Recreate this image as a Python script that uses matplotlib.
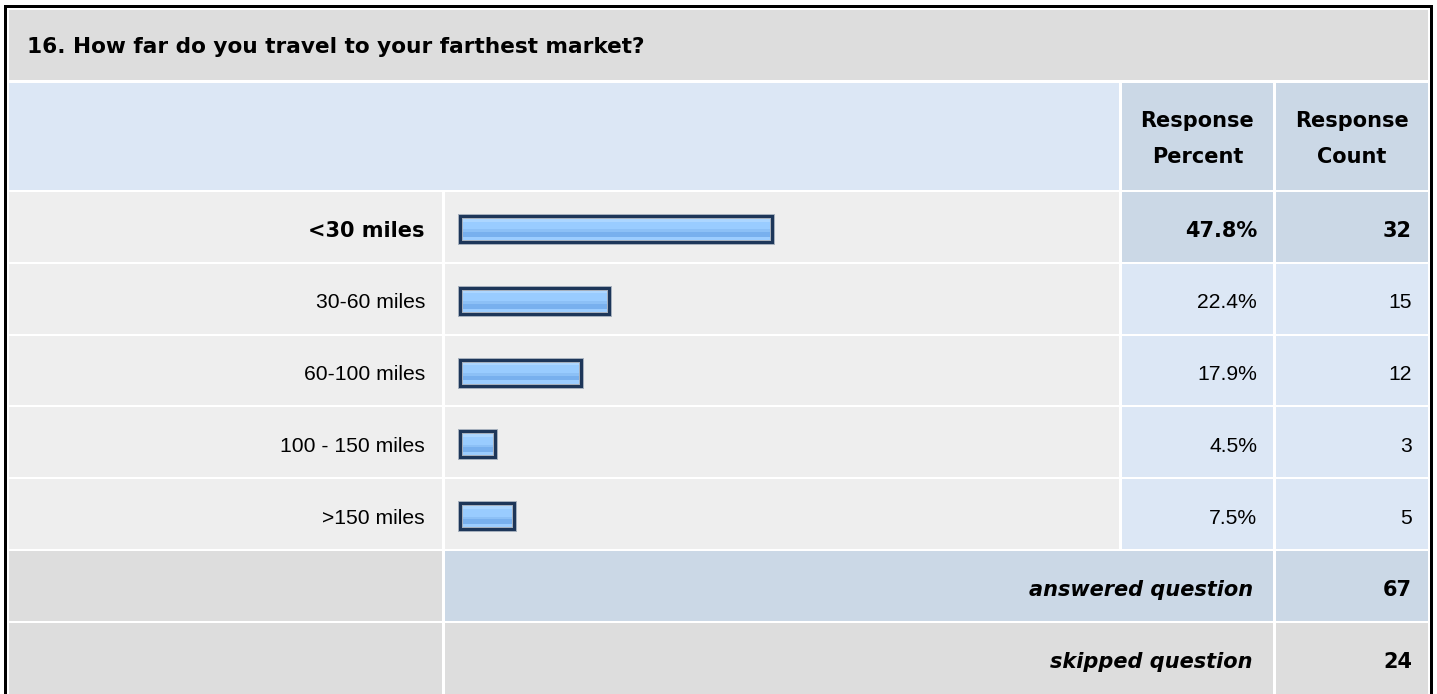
'''
survey question 16 - response table with bars
'''
import matplotlib
matplotlib.use('Agg')
import matplotlib.pyplot as plt
from matplotlib.patches import Rectangle

plt.rcParams['font.family'] = ['Liberation Sans', 'DejaVu Sans']

title = '16. How far do you travel to your farthest market?'
labels = ['<30 miles', '30-60 miles', '60-100 miles', '100 - 150 miles', '>150 miles']
percents = [47.8, 22.4, 17.9, 4.5, 7.5]
counts = [32, 15, 12, 3, 5]
answered = 67
skipped = 24

W, H = 1437, 694
fs = 15.2
# bold text in the picture is wide, DejaVu bold fits it better
bold = dict(family='DejaVu Sans', fontweight='bold', fontsize=15.0)
# colours of the table
c_title = '#dddddd'
c_head = '#dce7f5'
c_head2 = '#cbd8e6'
c_row = '#eeeeee'
c_cell = '#dce7f5'
navy = '#1d3659'
# bar stripes: (from, to, colour) as fractions of the bar height, from top
stripes = [(0.00, 0.10, '#c3e0ff'), (0.10, 0.22, '#acd6ff'), (0.22, 0.52, '#99ccff'),
           (0.52, 0.62, '#8cc0f6'), (0.62, 0.80, '#78b0ee'), (0.80, 1.00, '#9ccdff')]

fig = plt.figure(figsize=(W / 100, H / 100), dpi=100)
ax = fig.add_axes([0, 0, 1, 1])
ax.set_xlim(0, W)
ax.set_ylim(H, 0)
ax.axis('off')

def cell(x0, x1, y0, y1, color):
    ax.add_patch(Rectangle((x0, y0), x1 - x0, y1 - y0, facecolor=color, edgecolor='none'))

# column edges
cl = (9, 442)
cb = (445, 1119)
cp = (1122, 1273)
cc = (1276, 1428)
row0, pitch, rh = 192, 71.8, 69.8
dy = 4  # text sits a bit below the middle of the cell

# outer border
cell(4, 7, 5, H, 'black')
cell(4, 1433, 5, 7.5, 'black')
cell(1430, 1433, 5, H, 'black')

# title row
cell(cl[0], cc[1], 10, 80, c_title)
ax.text(27, 47, title, ha='left', va='center', **dict(bold, fontsize=15.6))

# header row
cell(cl[0], cb[1], 83, 190, c_head)
cell(cp[0], cp[1], 83, 190, c_head2)
cell(cc[0], cc[1], 83, 190, c_head2)
for (x0, x1), sub in [(cp, 'Percent'), (cc, 'Count')]:
    ax.text((x0 + x1) / 2, 121, 'Response', ha='center', va='center', **bold)
    ax.text((x0 + x1) / 2, 157, sub, ha='center', va='center', **bold)

top = max(percents)
for i, (lab, p, n) in enumerate(zip(labels, percents, counts)):
    y0 = row0 + i * pitch
    y1 = y0 + rh
    yc = (y0 + y1) / 2 + dy
    hi = p == top
    cell(cl[0], cl[1], y0, y1, c_row)
    cell(cb[0], cb[1], y0, y1, c_row)
    cell(cp[0], cp[1], y0, y1, c_head2 if hi else c_cell)
    cell(cc[0], cc[1], y0, y1, c_head2 if hi else c_cell)
    kw = bold if hi else dict(fontsize=fs)
    ax.text(425, yc, lab, ha='right', va='center', **kw)
    ax.text(1257, yc, f'{p:.1f}%', ha='right', va='center', **kw)
    ax.text(1412, yc, str(n), ha='right', va='center', **kw)

# answered / skipped rows
ya = row0 + 5 * pitch
cell(cl[0], cl[1], ya, ya + rh, c_title)
cell(cb[0], cp[1], ya, ya + rh, c_head2)
cell(cc[0], cc[1], ya, ya + rh, c_head2)
ax.text(1253, ya + rh / 2 + dy, 'answered question', ha='right', va='center',
        fontstyle='italic', **bold)
ax.text(1412, ya + rh / 2 + dy, str(answered), ha='right', va='center', **bold)
ys = ya + pitch
cell(cl[0], cl[1], ys, H + 5, c_title)
cell(cb[0], cp[1], ys, H + 5, c_title)
cell(cc[0], cc[1], ys, H + 5, c_title)
ax.text(1253, ys + rh / 2 + dy, 'skipped question', ha='right', va='center',
        fontstyle='italic', **bold)
ax.text(1412, ys + rh / 2 + dy, str(skipped), ha='right', va='center', **bold)

# bars on their own axes, 0-100 %; every bar carries a small stub left of 0
bx0, bx1 = 466, 1106
by0 = row0
by1 = row0 + 5 * pitch
stub = 0.95
bax = fig.add_axes([bx0 / W, 1 - by1 / H, (bx1 - bx0) / W, (by1 - by0) / H])
bax.set_xlim(0, 100)
bax.set_ylim(5, 0)
bax.axis('off')
bh = 26 / pitch
pos = [i + 0.5 + 1 / pitch for i in range(len(percents))]
widths = [p + stub for p in percents]
for f0, f1, col in stripes:
    bax.barh([y - bh / 2 + bh * (f0 + f1) / 2 for y in pos], widths, height=bh * (f1 - f0),
             left=-stub, color=col, edgecolor='none', clip_on=False)
bax.barh(pos, widths, height=bh, left=-stub, fill=False, edgecolor='#a9b3bf', linewidth=3.6, clip_on=False)
bax.barh(pos, widths, height=bh, left=-stub, fill=False, edgecolor=navy, linewidth=2.2, clip_on=False)

fig.savefig('out.png', dpi=100)
